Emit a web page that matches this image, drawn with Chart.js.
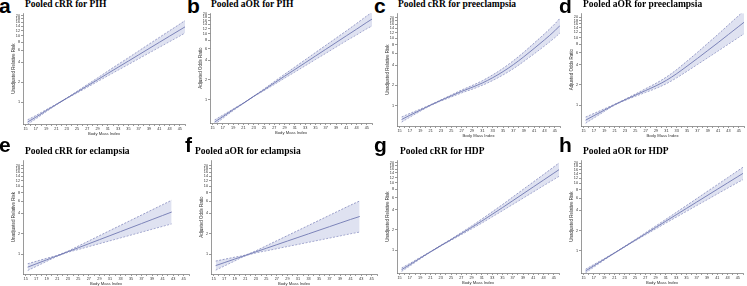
<!DOCTYPE html>
<html>
<head>
<meta charset="utf-8">
<script src="https://cdn.jsdelivr.net/npm/chart.js@4.4.0/dist/chart.umd.min.js"></script>
<style>
  html, body { margin: 0; padding: 0; background: #fff; }
  #wrap { position: relative; width: 747px; height: 286px; overflow: hidden; background: #fff; }
  .lt { position: absolute; font: bold 21px "Liberation Sans", Arial, sans-serif; line-height: 21px; color: #000; }
  .tt { position: absolute; font: bold 9.5px "Liberation Serif", "Times New Roman", serif; line-height: 10px; color: #000; white-space: nowrap; }
  canvas { position: absolute; }
</style>
</head>
<body>
<div id="wrap"></div>
<script>
// BMI points the curves were read at
const bmiFull = [15.4, 17, 19, 21, 23, 25, 27, 29, 31, 33, 35, 37, 39, 41, 43, 45, 46];
const bmiShort = [15.4, 17, 19, 21, 23, 25, 27, 29, 31, 33, 35, 37, 39, 41, 42.7];

// axis ticks
const xTickMarks = [15, 16, 17, 18, 19, 20, 21, 22, 23, 24, 25, 26, 27, 28, 29, 30, 31, 32, 33, 34, 35, 36, 37, 38, 39, 40, 41, 42, 43, 44, 45, 46];
const xTickLabels = [15, 17, 19, 21, 23, 25, 27, 29, 31, 33, 35, 37, 39, 41, 43, 45];
const yTickValues = [1, 2, 4, 6, 8, 10, 12, 14, 16, 18, 20];

// a - PIH crude RR
const pihCrrMid = [0.50, 0.59, 0.74, 0.92, 1.14, 1.41, 1.75, 2.17, 2.70, 3.35, 4.15, 5.15, 6.40, 7.94, 9.85, 12.2, 13.6];
const pihCrrUp  = [0.54, 0.625, 0.766, 0.93, 1.15, 1.45, 1.83, 2.31, 2.93, 3.70, 4.66, 5.90, 7.46, 9.42, 11.9, 15.0, 16.9];
const pihCrrLow = [0.463, 0.557, 0.715, 0.909, 1.13, 1.37, 1.67, 2.04, 2.49, 3.03, 3.69, 4.50, 5.49, 6.69, 8.15, 9.92, 11.0];
// b - PIH adjusted OR
const pihAorMid = [0.455, 0.55, 0.70, 0.88, 1.12, 1.41, 1.79, 2.27, 2.87, 3.63, 4.60, 5.82, 7.37, 9.34, 11.8, 15.0, 16.8];
const pihAorUp  = [0.49, 0.58, 0.72, 0.89, 1.13, 1.45, 1.88, 2.43, 3.13, 4.03, 5.20, 6.69, 8.62, 11.1, 14.4, 18.8, 21.3];
const pihAorLow = [0.42, 0.52, 0.68, 0.87, 1.11, 1.37, 1.70, 2.12, 2.63, 3.27, 4.07, 5.06, 6.30, 7.85, 9.67, 12.0, 13.2];
// c - preeclampsia crude RR
const preCrrMid = [0.624, 0.722, 0.858, 1.02, 1.20, 1.40, 1.63, 1.87, 2.17, 2.60, 3.20, 4.06, 5.30, 7.05, 9.45, 12.9, 15.4];
const preCrrUp  = [0.68, 0.769, 0.888, 1.036, 1.221, 1.444, 1.706, 1.987, 2.347, 2.863, 3.588, 4.65, 6.20, 8.46, 11.6, 16.3, 19.8];
const preCrrLow = [0.572, 0.678, 0.829, 1.006, 1.174, 1.348, 1.548, 1.752, 2.012, 2.366, 2.861, 3.54, 4.53, 5.87, 7.68, 10.2, 12.0];
// d - preeclampsia adjusted OR
const preAorMid = [0.599, 0.697, 0.841, 1.014, 1.197, 1.404, 1.647, 1.932, 2.329, 2.928, 3.784, 4.925, 6.453, 8.457, 11.16, 14.72, 16.91];
const preAorUp  = [0.665, 0.753, 0.879, 1.029, 1.221, 1.460, 1.754, 2.106, 2.608, 3.367, 4.503, 6.058, 8.260, 11.25, 15.51, 21.34, 25.0];
const preAorLow = [0.540, 0.645, 0.805, 0.999, 1.174, 1.350, 1.546, 1.772, 2.080, 2.546, 3.180, 4.004, 5.041, 6.359, 8.03, 10.15, 11.43];
// e - eclampsia crude RR
const eclCrrMid = [0.644, 0.719, 0.824, 0.944, 1.082, 1.240, 1.421, 1.629, 1.867, 2.140, 2.453, 2.811, 3.222, 3.693, 4.147];
const eclCrrUp  = [0.721, 0.784, 0.868, 0.960, 1.104, 1.314, 1.563, 1.865, 2.222, 2.645, 3.152, 3.755, 4.472, 5.329, 6.18];
const eclCrrLow = [0.575, 0.660, 0.783, 0.928, 1.061, 1.170, 1.292, 1.423, 1.569, 1.731, 1.909, 2.104, 2.321, 2.559, 2.78];
// f - eclampsia adjusted OR
const eclAorMid = [0.678, 0.748, 0.845, 0.954, 1.078, 1.218, 1.376, 1.555, 1.756, 1.984, 2.242, 2.533, 2.862, 3.233, 3.565];
const eclAorUp  = [0.790, 0.838, 0.901, 0.968, 1.117, 1.326, 1.576, 1.871, 2.221, 2.639, 3.134, 3.724, 4.422, 5.250, 6.025];
const eclAorLow = [0.582, 0.668, 0.793, 0.940, 1.041, 1.118, 1.202, 1.293, 1.388, 1.492, 1.604, 1.723, 1.852, 1.991, 2.109];
// g - HDP crude RR
const hdpCrrMid = [0.516, 0.611, 0.763, 0.946, 1.169, 1.434, 1.765, 2.181, 2.713, 3.411, 4.287, 5.426, 6.869, 8.694, 11.0, 13.93, 15.67];
const hdpCrrUp  = [0.547, 0.638, 0.782, 0.955, 1.181, 1.463, 1.827, 2.290, 2.903, 3.718, 4.759, 6.159, 7.968, 10.30, 13.31, 17.27, 19.67];
const hdpCrrLow = [0.487, 0.585, 0.744, 0.937, 1.157, 1.406, 1.705, 2.077, 2.536, 3.129, 3.862, 4.781, 5.922, 7.337, 9.09, 11.23, 12.49];
// h - HDP adjusted OR
const hdpAorMid = [0.505, 0.601, 0.748, 0.929, 1.155, 1.435, 1.784, 2.217, 2.755, 3.424, 4.256, 5.290, 6.575, 8.172, 10.16, 12.62, 14.07];
const hdpAorUp  = [0.535, 0.628, 0.767, 0.938, 1.167, 1.464, 1.846, 2.328, 2.934, 3.715, 4.703, 5.951, 7.561, 9.561, 12.14, 15.40, 17.38];
const hdpAorLow = [0.476, 0.575, 0.730, 0.920, 1.144, 1.407, 1.724, 2.111, 2.587, 3.156, 3.852, 4.702, 5.717, 6.985, 8.50, 10.34, 11.39];

const yRR = 'Unadjusted Relative Risk';
const yOR = 'Adjusted Odds Ratio';

// box = plot area [left, right, top, bottom] in page px, yr = log axis range
const panels = [
  { letter: 'a', title: 'Pooled cRR for PIH', yTitle: yRR, bmi: bmiFull, mid: pihCrrMid, up: pihCrrUp, low: pihCrrLow, box: [23, 185, 13, 124], yr: [0.466, 21.8], lx: -1, tx: 25, row: 0 },
  { letter: 'b', title: 'Pooled aOR for PIH', yTitle: yOR, bmi: bmiFull, mid: pihAorMid, up: pihAorUp, low: pihAorLow, box: [210, 372, 13, 123], yr: [0.44, 20.6], lx: 187, tx: 211, row: 0 },
  { letter: 'c', title: 'Pooled cRR for preeclampsia', yTitle: yRR, bmi: bmiFull, mid: preCrrMid, up: preCrrUp, low: preCrrLow, box: [397, 560, 13, 126], yr: [0.5, 23.4], lx: 374, tx: 398, row: 0 },
  { letter: 'd', title: 'Pooled aOR for preeclampsia', yTitle: yOR, bmi: bmiFull, mid: preAorMid, up: preAorUp, low: preAorLow, box: [581, 744, 13, 126], yr: [0.49, 23], lx: 559, tx: 583, row: 0 },
  { letter: 'e', title: 'Pooled cRR for eclampsia', yTitle: yRR, bmi: bmiShort, mid: eclCrrMid, up: eclCrrUp, low: eclCrrLow, box: [23, 189, 160, 274], yr: [0.51, 23.9], lx: -1, tx: 25, row: 1 },
  { letter: 'f', title: 'Pooled aOR for eclampsia', yTitle: yOR, bmi: bmiShort, mid: eclAorMid, up: eclAorUp, low: eclAorLow, box: [211, 377, 160, 274], yr: [0.51, 23.9], lx: 185, tx: 195, row: 1 },
  { letter: 'g', title: 'Pooled cRR for HDP', yTitle: yRR, bmi: bmiFull, mid: hdpCrrMid, up: hdpCrrUp, low: hdpCrrLow, box: [397, 559, 160, 273], yr: [0.46, 21.6], lx: 374, tx: 400, row: 1 },
  { letter: 'h', title: 'Pooled aOR for HDP', yTitle: yRR, bmi: bmiFull, mid: hdpAorMid, up: hdpAorUp, low: hdpAorLow, box: [581, 743, 160, 273], yr: [0.47, 22], lx: 559, tx: 583, row: 1 }
];

const letterTop = [-4.8, 134.2];
const titleTop = [-0.6, 145.9];

const midColor = '#4c5499';
const bandColor = '#7279b3';
const bandFill = 'rgba(183,190,225,0.45)';
const axisColor = '#555';
const textColor = '#333';

Chart.defaults.font.family = '"Liberation Sans", Arial, sans-serif';

var wrap = document.getElementById('wrap');

function pts(xs, ys) {
  return xs.map(function (x, i) { return { x: x, y: ys[i] }; });
}

function makePanel(p) {
  // letter + heading
  var lt = document.createElement('div');
  lt.className = 'lt';
  lt.textContent = p.letter;
  lt.style.left = p.lx + 'px';
  lt.style.top = letterTop[p.row] + 'px';
  wrap.appendChild(lt);

  var tt = document.createElement('div');
  tt.className = 'tt';
  tt.textContent = p.title;
  tt.style.left = p.tx + 'px';
  tt.style.top = titleTop[p.row] + 'px';
  wrap.appendChild(tt);

  var L = p.box[0], R = p.box[1], T = p.box[2], B = p.box[3];
  var cl = L - 13, ct = T - 3;
  var w = R - cl + 2, h = B - ct + 12;
  var cv = document.createElement('canvas');
  cv.width = w; cv.height = h;
  cv.style.left = cl + 'px'; cv.style.top = ct + 'px';
  cv.style.width = w + 'px'; cv.style.height = h + 'px';
  wrap.appendChild(cv);

  new Chart(cv, {
    type: 'line',
    data: {
      datasets: [
        { data: pts(p.bmi, p.up), borderColor: bandColor, borderWidth: 0.7, borderDash: [2, 1.5], fill: '+1', backgroundColor: bandFill, pointRadius: 0, cubicInterpolationMode: 'monotone' },
        { data: pts(p.bmi, p.low), borderColor: bandColor, borderWidth: 0.7, borderDash: [2, 1.5], fill: false, pointRadius: 0, cubicInterpolationMode: 'monotone' },
        { data: pts(p.bmi, p.mid), borderColor: midColor, borderWidth: 1, fill: false, pointRadius: 0, cubicInterpolationMode: 'monotone' }
      ]
    },
    options: {
      responsive: false,
      animation: false,
      devicePixelRatio: 1,
      layout: { padding: { top: 3, right: 2, left: 0, bottom: 0 } },
      plugins: { legend: { display: false }, tooltip: { enabled: false } },
      scales: {
        x: {
          type: 'linear', min: 14.5, max: 46,
          afterBuildTicks: function (ax) { ax.ticks = xTickMarks.map(function (v) { return { value: v }; }); },
          afterFit: function (s) { s.height = 12; },
          ticks: {
            autoSkip: false, maxRotation: 0, minRotation: 0, padding: 1,
            font: { size: 3.8 }, color: textColor,
            callback: function (v) { return xTickLabels.indexOf(v) >= 0 ? String(v) : ''; }
          },
          grid: { drawOnChartArea: false, drawTicks: true, tickLength: 2, color: axisColor, lineWidth: 0.6 },
          border: { display: true, color: axisColor, width: 0.6 },
          title: { display: true, text: 'Body Mass Index', font: { size: 4.2 }, color: textColor, padding: 0 }
        },
        y: {
          type: 'logarithmic', min: p.yr[0], max: p.yr[1],
          afterBuildTicks: function (ax) { ax.ticks = yTickValues.map(function (v) { return { value: v }; }); },
          afterFit: function (s) { s.width = 13; },
          ticks: {
            autoSkip: false, padding: 1,
            font: { size: 3.8 }, color: textColor,
            callback: function (v) { return String(v); }
          },
          grid: { drawOnChartArea: false, drawTicks: true, tickLength: 2, color: axisColor, lineWidth: 0.6 },
          border: { display: true, color: axisColor, width: 0.6 },
          title: { display: true, text: p.yTitle, font: { size: 4.5 }, color: textColor, padding: 1 }
        }
      }
    }
  });
}

panels.forEach(makePanel);
</script>
</body>
</html>
